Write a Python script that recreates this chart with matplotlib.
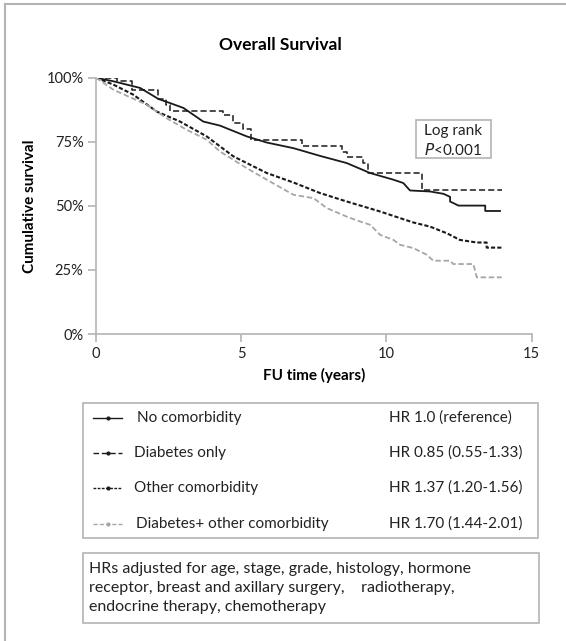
import numpy as np
import matplotlib.pyplot as plt
from matplotlib.lines import Line2D
from matplotlib.patches import Rectangle

plt.rcParams['font.family'] = ['Lato', 'DejaVu Sans']

# Kaplan-Meier estimates (years, survival fraction)
t_none = [0, 0.60, 1.52, 2.15, 2.55, 3.01, 3.69, 4.27, 5.19, 5.88, 6.80, 7.71, 8.63, 9.44,
          10.24, 10.58, 10.81, 11.50, 11.96, 12.19, 12.19, 12.48, 13.40, 13.40, 13.91]
s_none = [1.0, 0.986, 0.960, 0.917, 0.901, 0.882, 0.829, 0.813, 0.771, 0.747, 0.725, 0.695, 0.667, 0.628,
          0.602, 0.589, 0.560, 0.556, 0.547, 0.535, 0.517, 0.501, 0.501, 0.480, 0.480]

t_diab = [0, 0.71, 1.23, 2.15, 2.41, 2.55, 4.38, 4.71, 5.07, 5.34, 7.08, 8.46, 8.63, 9.20, 9.37, 11.23, 13.97]
s_diab = [1.0, 0.986, 0.953, 0.917, 0.895, 0.871, 0.855, 0.823, 0.799, 0.758, 0.734, 0.712, 0.690, 0.667, 0.628, 0.563, 0.563]

t_other = [0, 0.60, 1.28, 2.09, 2.89, 3.81, 4.73, 5.88, 6.80, 7.71, 8.63, 9.78, 10.47, 10.93,
           11.50, 12.08, 12.53, 13.11, 13.45, 13.45, 13.97]
s_other = [1.0, 0.973, 0.934, 0.868, 0.829, 0.771, 0.693, 0.628, 0.591, 0.550, 0.517, 0.478, 0.452, 0.435,
           0.419, 0.393, 0.367, 0.357, 0.357, 0.337, 0.337]

t_both = [0, 0.60, 1.74, 2.43, 3.12, 3.81, 4.27, 5.19, 5.88, 6.80, 7.49, 7.95, 8.63, 9.09, 9.44, 9.78,
          10.24, 10.47, 10.93, 11.39, 11.61, 12.19, 12.30, 12.99, 13.11, 13.97]
s_both = [1.0, 0.953, 0.895, 0.842, 0.797, 0.758, 0.712, 0.647, 0.602, 0.543, 0.530, 0.491, 0.458, 0.439, 0.426, 0.387,
          0.367, 0.348, 0.335, 0.309, 0.286, 0.286, 0.273, 0.273, 0.221, 0.221]

groups = ["No comorbidity", "Diabetes only", "Other comorbidity", "Diabetes+ other comorbidity"]
hr_text = ["HR 1.0 (reference)", "HR 0.85 (0.55-1.33)", "HR 1.37 (1.20-1.56)", "HR 1.70 (1.44-2.01)"]
y_ticks = [0, 0.25, 0.5, 0.75, 1.0]
y_ticklabels = ["0%", "25%", "50%", "75%", "100%"]
x_ticks = [0, 5, 10, 15]
footnote = ["HRs adjusted for age, stage, grade, histology, hormone",
            "receptor, breast and axillary surgery,    radiotherapy,",
            "endocrine therapy, chemotherapy"]

W, H = 566, 641
fig = plt.figure(figsize=(W / 100, H / 100), dpi=100)

def fx(px):
    return px / W

def fy(py):
    return 1 - py / H

ax = fig.add_axes([fx(96), fy(334), fx(531.7) - fx(96), fy(77.7) - fy(334)])

styles = [
    dict(color='#1a1a1a', lw=1.3, ls='-'),
    dict(color='#1a1a1a', lw=1.1, ls=(0, (4, 2))),
    dict(color='#1a1a1a', lw=1.5, ls=(0, (2, 1))),
    dict(color='#a6a6a6', lw=1.3, ls=(0, (3, 1.5))),
]

ax.plot(t_none, s_none, **styles[0])
ax.plot(t_diab, s_diab, drawstyle='steps-post', **styles[1])
ax.plot(t_other, s_other, **styles[2])
ax.plot(t_both, s_both, **styles[3])

ax.set_xlim(0, 15)
ax.set_ylim(0, 1)
ax.set_xticks(x_ticks)
ax.set_yticks(y_ticks)
ax.set_yticklabels(y_ticklabels)
for s in ['top', 'right']:
    ax.spines[s].set_visible(False)
for s in ['left', 'bottom']:
    ax.spines[s].set_color('#b4b4b8')
    ax.spines[s].set_linewidth(1.2)
ax.tick_params(direction='out', length=6, width=1.2, color='#b4b4b8', labelsize=10.5,
               labelcolor='#222222', pad=3)

ax.set_xlabel("FU time (years)", fontsize=11, fontweight='bold', labelpad=5)
ax.set_ylabel("Cumulative survival", fontsize=11, fontweight='bold', labelpad=7)
fig.text(fx(280), fy(45), "Overall Survival", fontsize=12.5, fontweight='bold', ha='center', va='center')

# log-rank box
fig.patches.append(Rectangle((fx(416), fy(158.3)), fx(490.7) - fx(416), fy(120) - fy(158.3),
                             transform=fig.transFigure, fill=False, ec='#b4b4b8', lw=1.2))
fig.text(fx(424), fy(131), "Log rank", fontsize=11, va='center', color='#222222')
fig.text(fx(424), fy(150), "$\\it{P}$<0.001", fontsize=11, va='center', color='#222222')

# legend box
fig.patches.append(Rectangle((fx(83), fy(538)), fx(538) - fx(83), fy(403) - fy(538),
                             transform=fig.transFigure, fill=False, ec='#b4b4b8', lw=1.2))
rows = [418, 453, 488, 524]
label_x = [137, 134.5, 134.5, 136]
for i, (name, hr) in enumerate(zip(groups, hr_text)):
    y = fy(rows[i])
    fig.lines.append(Line2D([fx(93), fx(122)], [y, y], transform=fig.transFigure,
                            color=styles[i]['color'], ls=styles[i]['ls'], lw=1.0))
    fig.lines.append(Line2D([fx(108)], [y], transform=fig.transFigure, marker='o', ms=2,
                            color=styles[i]['color'], ls='none'))
    fig.text(fx(label_x[i]), y, name, fontsize=11, va='center', color='#222222')
    fig.text(fx(389), y, hr, fontsize=11, va='center', color='#222222')

# footnote box
fig.patches.append(Rectangle((fx(83), fy(623)), fx(539) - fx(83), fy(553) - fy(623),
                             transform=fig.transFigure, fill=False, ec='#b4b4b8', lw=1.2))
for line, yy in zip(footnote, [569, 588, 607]):
    fig.text(fx(89), fy(yy), line, fontsize=11.5, va='center', ha='left', color='#222222')

# outer frame (top and left edges)
fig.lines.append(Line2D([fx(5), fx(566)], [fy(4), fy(4)], transform=fig.transFigure,
                        color='#b4b4b8', lw=1.5))
fig.lines.append(Line2D([fx(5), fx(5)], [fy(4), fy(641)], transform=fig.transFigure,
                        color='#b4b4b8', lw=1.5))

fig.savefig('out.png', dpi=100)
